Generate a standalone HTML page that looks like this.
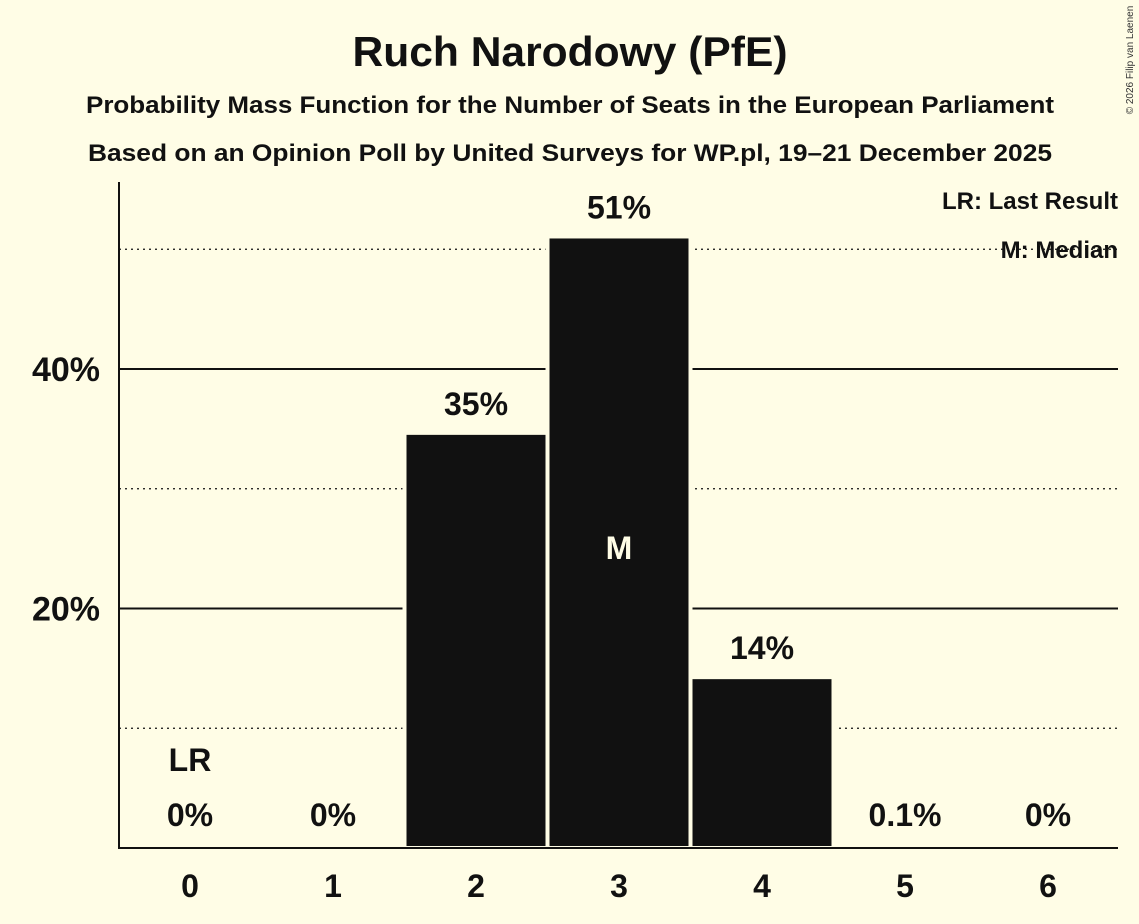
<!DOCTYPE html>
<html><head><meta charset="utf-8"><style>
body{margin:0;background:#FFFDE6;}
svg{display:block;font-family:"Liberation Sans",sans-serif;}
</style></head><body>
<svg id="chart" width="1139" height="924" viewBox="0 0 1139 924">
<rect width="1139" height="924" fill="#FFFDE6"/>
<text x="570" y="66" text-anchor="middle" font-size="42" font-weight="bold" fill="#111" textLength="435" lengthAdjust="spacingAndGlyphs">Ruch Narodowy (PfE)</text>
<text x="570" y="113" text-anchor="middle" font-size="24" font-weight="bold" fill="#111" textLength="968" lengthAdjust="spacingAndGlyphs">Probability Mass Function for the Number of Seats in the European Parliament</text>
<text x="570" y="161" text-anchor="middle" font-size="24" font-weight="bold" fill="#111" textLength="964" lengthAdjust="spacingAndGlyphs">Based on an Opinion Poll by United Surveys for WP.pl, 19–21 December 2025</text>
<text x="1133" y="60" font-size="10" fill="#333" transform="rotate(-90 1133 60)" text-anchor="middle">© 2026 Filip van Laenen</text>
<g id="grid"></g>
<g id="bars"></g>
<line x1="119" y1="182" x2="119" y2="849" stroke="#111" stroke-width="2"/>
<line x1="118" y1="848" x2="1118" y2="848" stroke="#111" stroke-width="2"/>
<text x="1118" y="209" text-anchor="end" font-size="24" font-weight="bold" fill="#111">LR: Last Result</text>
<text x="1118" y="258" text-anchor="end" font-size="24" font-weight="bold" fill="#111">M: Median</text>
</svg>
<script>
const categories=[0,1,2,3,4,5,6];
const values=[0,0,34.5,50.9,14.1,0.1,0];
const valueLabels=["0%","0%","35%","51%","14%","0.1%","0%"];
const yTicks=[20,40];
const yTickLabels=["20%","40%"];
const minorTicks=[10,30,50];
const lastResultIndex=0;
const medianIndex=3;
const NS="http://www.w3.org/2000/svg";
const x=i=>190+i*143;
const y=v=>848-v*11.975;
const bw=139;
function mk(t,a,p){const e=document.createElementNS(NS,t);for(const k in a)e.setAttribute(k,a[k]);p.appendChild(e);return e;}
const grid=document.getElementById('grid'),bars=document.getElementById('bars');
minorTicks.forEach(v=>{
 const l=mk('line',{x1:119,x2:1118,y1:y(v),y2:y(v),stroke:'#111','stroke-width':1.2,'stroke-dasharray':'2,4'},grid);
 
 
});
yTicks.forEach((v,i)=>{
 const l=mk('line',{x1:119,x2:1118,y1:y(v),y2:y(v),stroke:'#111','stroke-width':2},grid);
 
 
 const t=mk('text',{x:100,y:y(v)+12,'text-anchor':'end','font-size':34,'font-weight':'bold',fill:'#111'},grid);
 t.textContent=yTickLabels[i];
 
 
});
categories.forEach((c,i)=>{
 const v=values[i];
 if(v>0.5){
  const r=mk('rect',{x:x(i)-bw/2-2,y:y(v)-2,width:bw+4,height:848-y(v)+2,fill:'#111',stroke:'#FFFDE6','stroke-width':4},bars);
  
  
 }
 const lt=mk('text',{x:x(i),y:(v>0.5?y(v)-20:826),'text-anchor':'middle','font-size':32,'font-weight':'bold',fill:'#111'},bars);
 lt.textContent=valueLabels[i];
 
 
 const xt=mk('text',{x:x(i),y:897,'text-anchor':'middle','font-size':32,'font-weight':'bold',fill:'#111'},bars);
 xt.textContent=c;
 
 
});
const lr=mk('text',{x:x(lastResultIndex),y:771,'text-anchor':'middle','font-size':32,'font-weight':'bold',fill:'#111'},bars);
lr.textContent='LR';


const m=mk('text',{x:x(medianIndex),y:559,'text-anchor':'middle','font-size':32,'font-weight':'bold',fill:'#FFFDE6'},bars);
m.textContent='M';


</script>
</body></html>
